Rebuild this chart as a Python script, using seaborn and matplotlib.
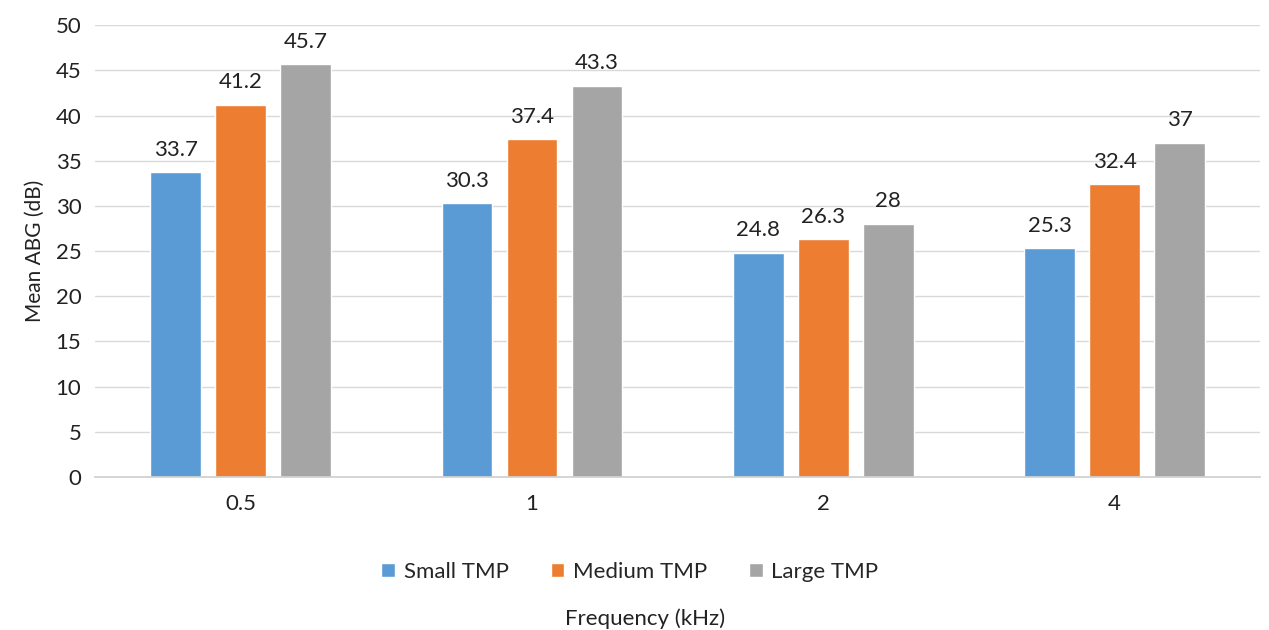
import pandas as pd
import matplotlib
matplotlib.use("Agg")
import matplotlib.pyplot as plt
import seaborn as sns

# Data
frequencies = ["0.5", "1", "2", "4"]
small_tmp = [33.7, 30.3, 24.8, 25.3]
medium_tmp = [41.2, 37.4, 26.3, 32.4]
large_tmp = [45.7, 43.3, 28.0, 37.0]
series_names = ["Small TMP", "Medium TMP", "Large TMP"]
colors = ["#5B9BD5", "#ED7D31", "#A5A5A5"]

rows = []
for name, vals in zip(series_names, [small_tmp, medium_tmp, large_tmp]):
    for f, v in zip(frequencies, vals):
        rows.append({"freq": f, "group": name, "value": v})
df = pd.DataFrame(rows)

sns.set_theme(style="white")
plt.rcParams["font.family"] = ["Lato", "DejaVu Sans"]

fig = plt.figure(figsize=(12.69, 6.30), dpi=100)
ax = fig.add_axes([0.075, 0.243, 0.918, 0.717])

sns.barplot(data=df, x="freq", y="value", hue="group", order=frequencies,
            hue_order=series_names, palette=colors, width=0.67, gap=0.22,
            saturation=1, ax=ax, legend=True)

for cont in ax.containers:
    labels = [f"{v:g}" for v in cont.datavalues]
    ax.bar_label(cont, labels=labels, padding=9, fontsize=16, color="#222222")

ax.set_ylim(0, 50)
ax.set_yticks(range(0, 51, 5))
ax.set_xlim(-0.5, 3.5)
ax.yaxis.grid(True, color="#D9D9D9", linewidth=1)
ax.set_axisbelow(True)
for s in ["top", "right", "left"]:
    ax.spines[s].set_visible(False)
ax.spines["bottom"].set_color("#D0D0D0")
ax.tick_params(axis="both", length=0, labelsize=16, colors="#222222")
ax.tick_params(axis="x", pad=12)
ax.tick_params(axis="y", pad=10)

ax.set_ylabel("Mean ABG (dB)", fontsize=15, color="#222222", labelpad=8)
ax.set_xlabel("Frequency (kHz)", fontsize=16, color="#222222")
ax.xaxis.set_label_coords(0.472, -0.292)

ax.legend(loc="center", bbox_to_anchor=(0.459, -0.21), ncol=3, frameon=False,
          fontsize=16, handlelength=0.6, handleheight=0.6, handletextpad=0.4,
          columnspacing=1.9)

fig.savefig("out.png", dpi=100)
